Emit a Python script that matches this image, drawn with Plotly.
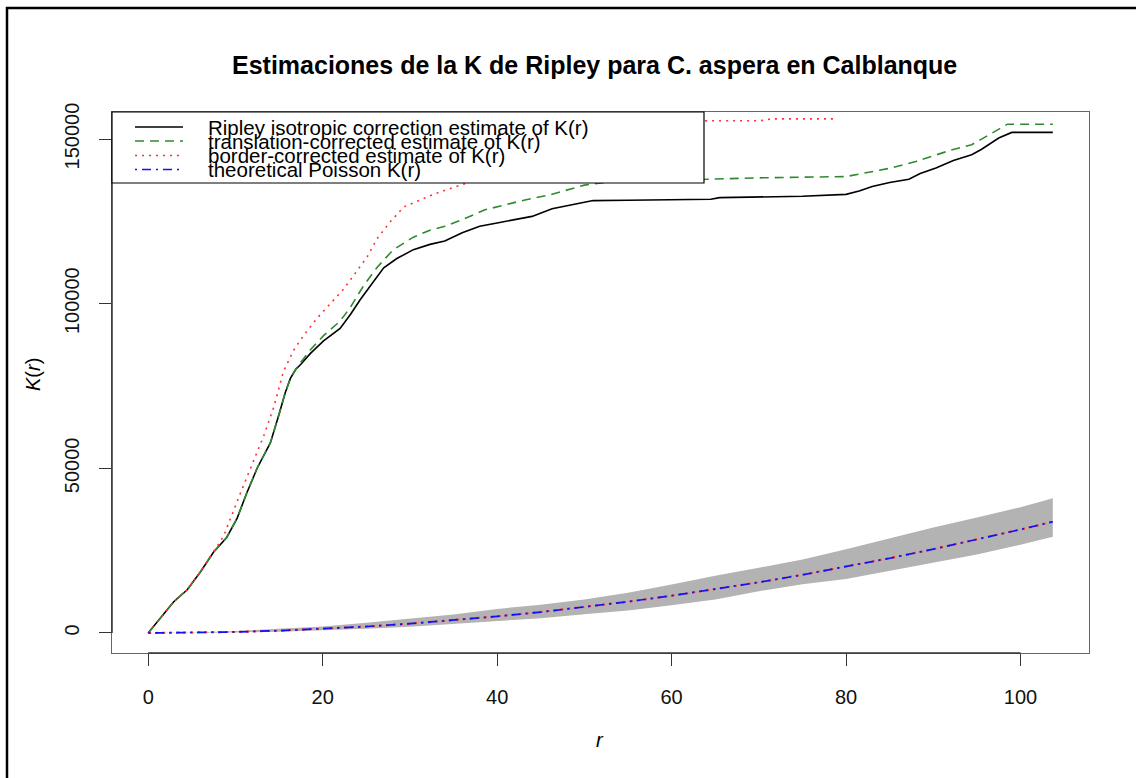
import plotly.graph_objects as go

# ---------------- data ----------------
r_iso = [0, 1.2, 2.9, 4.5, 6.0, 7.5, 8.3, 9.0, 10.2, 11.3, 12.5, 14.0, 15.0, 15.7, 16.3,
         16.9, 17.5, 18.6, 20.1, 22.0, 23.2, 24.3, 25.5, 27.0, 28.5, 30.4, 32.3, 34, 36,
         38, 40, 42, 44, 46.3, 48.5, 51, 55, 60, 64.5, 65.5, 70, 75, 80, 81.5, 83, 85,
         87.2, 88.5, 90.3, 92.3, 94.4, 95.5, 97.5, 99.0, 103.7]
k_iso = [0, 4000, 9400, 13200, 18600, 24600, 26800, 29000, 34900, 42500, 50100, 57700,
         66400, 72900, 77300, 80000, 81600, 84900, 88700, 92500, 96800, 101200, 105500,
         110900, 113700, 116400, 118000, 119000, 121500, 123500, 124500, 125500, 126500,
         128800, 130000, 131300, 131400, 131500, 131700, 132200, 132400, 132600, 133200,
         134200, 135600, 136800, 137800, 139500, 141200, 143500, 145200, 146800, 150300,
         152000, 152000]

r_trans = [0, 1.2, 2.9, 4.5, 6.0, 7.5, 8.3, 9.0, 10.2, 11.3, 12.5, 14.0, 15.0, 15.7, 16.3,
           16.9, 17.5, 18.6, 20.1, 22.0, 23.2, 24.7, 26.2, 28.1, 30.4, 32.3, 34, 36, 38.6,
           41, 43.2, 46, 50, 53, 57, 62, 66, 70, 75, 80, 82, 85.2, 88, 90.3, 92, 94.4,
           96, 97.5, 98.5, 103.7]
k_trans = [0, 4000, 9400, 13200, 18600, 24600, 26800, 29000, 34900, 42500, 50100, 57700,
           66400, 72900, 77300, 80000, 82200, 86000, 90300, 94700, 99000, 105500, 110900,
           116400, 120200, 122300, 123500, 125500, 128500, 130000, 131500, 133000, 136000,
           137000, 137300, 137600, 138000, 138200, 138400, 138600, 139600, 141200, 143200,
           145200, 146600, 148250, 150600, 152800, 154500, 154500]

r_bord = [0, 1.2, 2.9, 4.5, 6.0, 7.5, 8.66, 10.58, 12.1, 13.25, 14.4, 15.5, 16.7, 17.8,
          19.4, 20.9, 22.4, 23.9, 25.1, 26.2, 27.8, 29.3, 31.2, 33, 36.6, 40, 44, 48, 52,
          56, 60, 64.2, 70.2, 71.4, 78.5]
k_bord = [0, 4000, 9400, 13200, 18600, 24600, 29500, 42500, 52300, 59900, 68600, 79400,
          85950, 90300, 95700, 100050, 104400, 109850, 114200, 119600, 125000, 129400,
          131550, 133500, 136700, 140500, 144500, 148500, 151500, 153800, 155000, 155550,
          155550, 156100, 156100]

r_theo = [0, 5, 10, 15, 20, 25, 30, 35, 40, 45, 50, 55, 60, 65, 70, 75, 80, 85, 90, 95,
          100, 103.7]
k_theo = [0, 80, 310, 710, 1260, 1960, 2830, 3850, 5030, 6360, 7850, 9500, 11310, 13270,
          15390, 17670, 20110, 22700, 25450, 28350, 31420, 33780]

r_env = [0, 5, 10, 15, 20, 25, 30, 35, 40, 45, 50, 55, 60, 65, 70, 75, 80, 85, 90, 95,
         100, 103.7]
k_env_lo = [0, 30, 150, 400, 800, 1300, 1900, 2700, 3600, 4500, 5700, 6800, 8400, 10200,
            12700, 14800, 16400, 18900, 21300, 23800, 26800, 29200]
k_env_hi = [0, 150, 600, 1200, 2000, 3100, 4300, 5600, 7300, 8600, 10200, 12200, 14700,
            17400, 19800, 22300, 25400, 28800, 32000, 35100, 38200, 40900]

x_ticks = [0, 20, 40, 60, 80, 100]
y_ticks = [0, 50000, 100000, 150000]

title_text = "Estimaciones de la K de Ripley para C. aspera en Calblanque"
legend_labels = ["Ripley isotropic correction estimate of K(r)",
                 "translation-corrected estimate of K(r)",
                 "border-corrected estimate of K(r)",
                 "theoretical Poisson K(r)"]

# ---------------- layout geometry (pixels) ----------------
W, H = 1136, 778
L, R, T, B = 112, 1089, 112, 653
pw, ph = R - L, B - T


def px(x):
    return (x - L) / pw


def py(y):
    return (B - y) / ph


FONT = "Liberation Sans, Arial, Helvetica, sans-serif"
GREEN = "#2f8a2f"
RED = "#ff3030"
BLUE = "#1010ff"
GREY = "#b3b3b3"

fig = go.Figure()

# envelope
fig.add_trace(go.Scatter(x=r_env, y=k_env_lo, mode="lines", line=dict(width=0, color=GREY),
                         showlegend=False, hoverinfo="skip"))
fig.add_trace(go.Scatter(x=r_env, y=k_env_hi, mode="lines", line=dict(width=0, color=GREY),
                         fill="tonexty", fillcolor=GREY, showlegend=False, hoverinfo="skip"))

fig.add_trace(go.Scatter(x=r_iso, y=k_iso, mode="lines",
                         line=dict(color="black", width=1.6), showlegend=False))
fig.add_trace(go.Scatter(x=r_trans, y=k_trans, mode="lines",
                         line=dict(color=GREEN, width=1.6, dash="9px,6px"), showlegend=False))
fig.add_trace(go.Scatter(x=r_bord, y=k_bord, mode="lines",
                         line=dict(color=RED, width=1.6, dash="2px,5px"), showlegend=False))
fig.add_trace(go.Scatter(x=r_theo, y=k_theo, mode="lines",
                         line=dict(color=RED, width=2.0, dash="3px,4px"), showlegend=False))
fig.add_trace(go.Scatter(x=r_theo, y=k_theo, mode="lines",
                         line=dict(color=BLUE, width=1.7, dash="2px,5px,9px,5px"), showlegend=False))

shapes = []
# outer frame (partly outside the page)
shapes.append(dict(type="rect", xref="paper", yref="paper",
                   x0=px(7), x1=px(1160), y0=py(800), y1=py(8),
                   line=dict(color="black", width=2.5), layer="above"))
# axis segments from first to last tick
shapes.append(dict(type="line", xref="x", yref="paper", x0=x_ticks[0], x1=x_ticks[-1],
                   y0=0, y1=0, line=dict(color="#333", width=1.5), layer="above"))
shapes.append(dict(type="line", xref="paper", yref="y", x0=0, x1=0,
                   y0=y_ticks[0], y1=y_ticks[-1], line=dict(color="#333", width=1.5), layer="above"))
# legend box
shapes.append(dict(type="rect", xref="paper", yref="paper",
                   x0=px(112), x1=px(704), y0=py(183), y1=py(112),
                   fillcolor="white", line=dict(color="black", width=1.2), layer="above"))
legend_styles = [
    dict(color="black", width=1.6),
    dict(color=GREEN, width=1.6, dash="9px,6px"),
    dict(color=RED, width=1.6, dash="2px,5px"),
    dict(color=BLUE, width=1.6, dash="2px,5px,9px,5px"),
]
row_y = [127, 141, 155.5, 169.5]
annotations = []
for lab, st, yy in zip(legend_labels, legend_styles, row_y):
    shapes.append(dict(type="line", xref="paper", yref="paper",
                       x0=px(135), x1=px(183), y0=py(yy), y1=py(yy), line=st, layer="above"))
    annotations.append(dict(text=lab, xref="paper", yref="paper", x=px(206), y=py(yy),
                            xanchor="left", yanchor="middle", showarrow=False,
                            font=dict(family=FONT, size=20.5, color="black")))

annotations.append(dict(text="<b>" + title_text + "</b>", xref="paper", yref="paper",
                        x=px(594), y=py(65), xanchor="center", yanchor="middle", showarrow=False,
                        font=dict(family=FONT, size=25, color="black")))
annotations.append(dict(text="<i>r</i>", xref="paper", yref="paper", x=px(600), y=py(740),
                        xanchor="center", yanchor="middle", showarrow=False,
                        font=dict(family=FONT, size=20, color="black")))
annotations.append(dict(text="<i>K</i>(<i>r</i>)", xref="paper", yref="paper", x=px(33),
                        y=py(375), xanchor="center", yanchor="middle", showarrow=False,
                        textangle=-90, font=dict(family=FONT, size=20, color="black")))

fig.update_layout(
    width=W, height=H,
    margin=dict(l=L, r=W - R, t=T, b=H - B, pad=0),
    paper_bgcolor="white", plot_bgcolor="white",
    shapes=shapes, annotations=annotations,
    font=dict(family=FONT, size=20, color="black"),
    xaxis=dict(range=[-4.15, 107.85], tickvals=x_ticks, ticktext=[str(v) for v in x_ticks],
               ticks="outside", ticklen=12, tickwidth=1.3, tickcolor="#333",
               showgrid=False, zeroline=False, showline=True, mirror=True,
               linecolor="#666", linewidth=1.3, ticklabelstandoff=14,
               tickfont=dict(family=FONT, size=20, color="#111")),
    yaxis=dict(range=[-6080, 158200], tickvals=y_ticks, ticktext=[str(v) for v in y_ticks],
               ticks="outside", ticklen=12, tickwidth=1.3, tickcolor="#333",
               showgrid=False, zeroline=False, showline=True, mirror=True,
               linecolor="#666", linewidth=1.3, tickangle=-90, ticklabelstandoff=12,
               tickfont=dict(family=FONT, size=20, color="#111")),
)

fig.write_html("out.html", config={"displayModeBar": False},
               post_script="document.body.style.margin='0';document.body.style.overflow='hidden';")
